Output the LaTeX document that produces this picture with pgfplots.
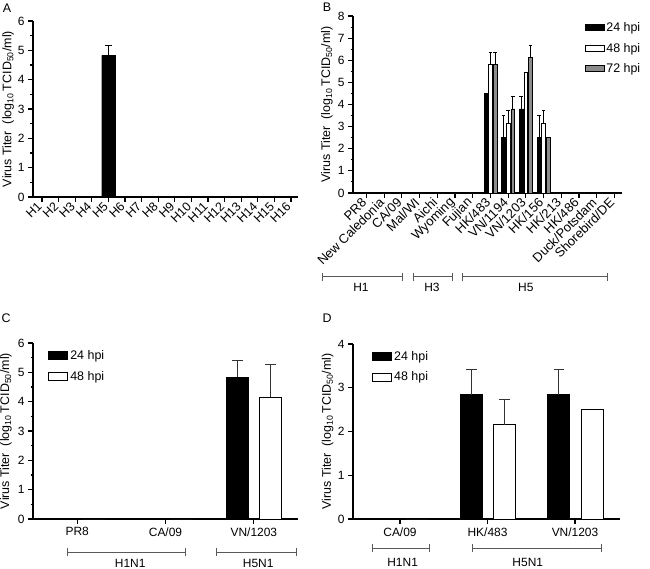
\documentclass[border=0pt]{standalone}
\usepackage{fontspec}
\setmainfont{Liberation Sans}
\usepackage{pgfplots}
\pgfplotsset{compat=1.18}
\definecolor{barg}{gray}{0.55}
\definecolor{brk}{gray}{0.35}
\newcommand{\brkt}[6]{%
  \draw[brk, line width=0.9pt] (axis cs:#1,#3) -- (axis cs:#2,#3);
  \draw[brk, line width=0.9pt] ([yshift=-4bp]axis cs:#1,#3) -- ([yshift=4bp]axis cs:#1,#3);
  \draw[brk, line width=0.9pt] ([yshift=-4bp]axis cs:#2,#3) -- ([yshift=4bp]axis cs:#2,#3);
  \node[font=\fontsize{12}{14}\selectfont] at (axis cs:#4,#5) {#6};}
\pgfplotsset{
  panel/.style={
    scale only axis, anchor=south west, clip=false,
    axis x line*=bottom, axis y line*=left,
    axis line style={line width=1.3pt},
    tick align=outside,
    tick style={line width=1.1pt, black},
    major tick length=5bp, minor tick length=2.5bp,
    ymin=0, enlargelimits=false,
    /pgf/number format/assume math mode=true,
    tick label style={font=\fontsize{12}{14}\selectfont, text=black},
    ylabel={Virus Titer\ \ (log\textsubscript{10}\,TCID\textsubscript{50}/ml)},
    ylabel style={font=\fontsize{12.5}{14}\selectfont, anchor=center},
    legend style={draw=none, fill=none, anchor=north west,
      font=\fontsize{12.5}{14}\selectfont, row sep=5bp, inner sep=0pt},
    legend cell align=left,
  },
  legsmall/.style={legend image code/.code={\draw[##1, line width=0.8pt] (0bp,-3bp) rectangle (19bp,3bp);}},
  legbig/.style={legend image code/.code={\draw[##1, line width=1pt] (0bp,-4bp) rectangle (19bp,4bp);}},
  errs/.style={forget plot, draw=none, mark=none,
    error bars/.cd, y dir=plus, y explicit},
}
\begin{document}
\begin{tikzpicture}
\useasboundingbox (0,0) rectangle (650bp,-569bp);
% ---------------- Panel A
\begin{axis}[panel, at={(33bp,-197bp)}, width=265bp, height=176bp,
  xmin=-0.54, xmax=15.42, ymax=6, ytick={0,...,6}, minor y tick num=1,
  xtick={0,...,15},
  xticklabels={H1,H2,H3,H4,H5,H6,H7,H8,H9,H10,H11,H12,H13,H14,H15,H16},
  xticklabel style={rotate=45, anchor=east, font=\fontsize{12.5}{14}\selectfont},
  ylabel style={at={(rel axis cs:-0.094,0.5)}},
  error bars/error bar style={draw=black, line width=1.5pt},
  error bars/error mark options={draw=black, rotate=90, mark size=3.5bp, line width=1.5pt},
]
\addplot[ybar, bar width=0.8, bar shift=0, fill=black, draw=black]
  coordinates {(0,0) (1,0) (2,0) (3,0) (4,4.83) (5,0) (6,0) (7,0)
   (8,0) (9,0) (10,0) (11,0) (12,0) (13,0) (14,0) (15,0)};
\addplot[errs] coordinates {(4,4.83) +- (0,0.34)};
\end{axis}
% ---------------- Panel B
\begin{axis}[panel, at={(353bp,-193bp)}, width=269bp, height=177bp,
  xmin=-0.76, xmax=14.43, ymax=8, ytick={0,...,8}, minor y tick num=1,
  xtick={0,...,14},
  xticklabels={PR8,New Caledonia,CA/09,Mal/WI,Aichi,Wyoming,Fujian,HK/483,VN/1194,VN/1203,HK/156,HK/213,HK/486,Duck/Potsdam,Shorebird/DE},
  xticklabel style={rotate=45, anchor=east, font=\fontsize{13}{15}\selectfont},
  ylabel style={at={(rel axis cs:-0.097,0.5)}},
  legend style={at={(rel axis cs:0.86,0.975)}, row sep=6bp},
  error bars/error bar style={draw=black, line width=0.7pt},
  error bars/error mark options={draw=black, rotate=90, mark size=1.8bp, line width=0.7pt},
]
\addplot[ybar, bar width=0.2, bar shift=-0.26, fill=black, draw=black, line width=0.6pt, legsmall]
  coordinates {(0,0) (1,0) (2,0) (3,0) (4,0) (5,0) (6,0) (7,4.5)
   (8,2.5) (9,3.8) (10,2.5) (11,0) (12,0) (13,0) (14,0)};
\addlegendentry{24 hpi}
\addplot[ybar, bar width=0.2, bar shift=0, fill=white, draw=black, line width=0.6pt, legsmall]
  coordinates {(0,0) (1,0) (2,0) (3,0) (4,0) (5,0) (6,0) (7,5.8)
   (8,3.15) (9,5.45) (10,3.15) (11,0) (12,0) (13,0) (14,0)};
\addlegendentry{48 hpi}
\addplot[ybar, bar width=0.2, bar shift=0.26, fill=barg, draw=black, line width=0.6pt, legsmall]
  coordinates {(0,0) (1,0) (2,0) (3,0) (4,0) (5,0) (6,0) (7,5.8)
   (8,3.8) (9,6.13) (10,2.5) (11,0) (12,0) (13,0) (14,0)};
\addlegendentry{72 hpi}
\addplot[errs] coordinates {(7.74,2.5) +- (0,1.0) (8.74,3.8) +- (0,0.58) (9.74,2.5) +- (0,1.0)};
\addplot[errs] coordinates {(7,5.8) +- (0,0.56) (8,3.15) +- (0,0.57) (10,3.15) +- (0,0.57)};
\addplot[errs] coordinates {(7.26,5.8) +- (0,0.56) (8.26,3.8) +- (0,0.58) (9.26,6.13) +- (0,0.56)};
\brkt{-2.46}{2.06}{-3.79}{-0.31}{-4.28}{H1}
\brkt{2.63}{4.83}{-3.79}{3.7}{-4.28}{H3}
\brkt{5.4}{13.59}{-3.79}{9.0}{-4.28}{H5}
\end{axis}
% ---------------- Panel C
\begin{axis}[panel, at={(33bp,-519bp)}, width=265bp, height=176bp,
  xmin=-0.5, xmax=2.5, ymax=6, ytick={0,...,6}, minor y tick num=1,
  xtick={0,1,2}, xticklabels={PR8,CA/09,VN/1203},
  ylabel style={at={(rel axis cs:-0.102,0.5)}},
  legend style={at={(rel axis cs:0.057,0.97)}, row sep=6bp},
  error bars/error bar style={draw=black!80, line width=1pt},
  error bars/error mark options={draw=black!80, rotate=90, mark size=5.4bp, line width=1pt},
]
\addplot[ybar, bar width=0.25, bar shift=-0.185, fill=black, draw=black, line width=1pt, legbig]
  coordinates {(0,0) (1,0) (2,4.83)};
\addlegendentry{24 hpi}
\addplot[ybar, bar width=0.25, bar shift=0.185, fill=white, draw=black, line width=1pt, legbig]
  coordinates {(0,0) (1,0) (2,4.15)};
\addlegendentry{48 hpi}
\addplot[errs] coordinates {(1.815,4.83) +- (0,0.57)};
\addplot[errs] coordinates {(2.185,4.15) +- (0,1.13)};
\brkt{-0.113}{1.223}{-1.13}{0.6}{-1.52}{H1N1}
\brkt{1.574}{2.48}{-1.13}{2.05}{-1.52}{H5N1}
\end{axis}
% ---------------- Panel D
\begin{axis}[panel, at={(353bp,-519bp)}, width=267bp, height=175bp,
  xmin=-0.537, xmax=2.514, ymax=4, ytick={0,...,4},
  xtick={0,1,2}, xticklabels={CA/09,HK/483,VN/1203},
  ylabel style={at={(rel axis cs:-0.095,0.5)}},
  legend style={at={(rel axis cs:0.071,0.97)}, row sep=6bp},
  error bars/error bar style={draw=black!80, line width=1pt},
  error bars/error mark options={draw=black!80, rotate=90, mark size=5.3bp, line width=1pt},
]
\addplot[ybar, bar width=0.25, bar shift=-0.185, fill=black, draw=black, line width=1pt, legbig]
  coordinates {(0,0) (1,2.84) (2,2.84)};
\addlegendentry{24 hpi}
\addplot[ybar, bar width=0.25, bar shift=0.195, fill=white, draw=black, line width=1pt, legbig]
  coordinates {(0,0) (1,2.16) (2,2.5)};
\addlegendentry{48 hpi}
\addplot[errs] coordinates {(0.815,2.84) +- (0,0.57) (1.815,2.84) +- (0,0.57)};
\addplot[errs] coordinates {(1.195,2.16) +- (0,0.58)};
\brkt{-0.32}{0.331}{-0.67}{0.03}{-0.99}{H1N1}
\brkt{0.823}{2.297}{-0.67}{1.46}{-0.99}{H5N1}
\end{axis}
% panel letters
\node[font=\fontsize{12.5}{14}\selectfont] at (7bp,-8bp) {A};
\node[font=\fontsize{12.5}{14}\selectfont] at (327bp,-7bp) {B};
\node[font=\fontsize{12.5}{14}\selectfont] at (6bp,-318bp) {C};
\node[font=\fontsize{12.5}{14}\selectfont] at (327bp,-318bp) {D};
\end{tikzpicture}
\end{document}
